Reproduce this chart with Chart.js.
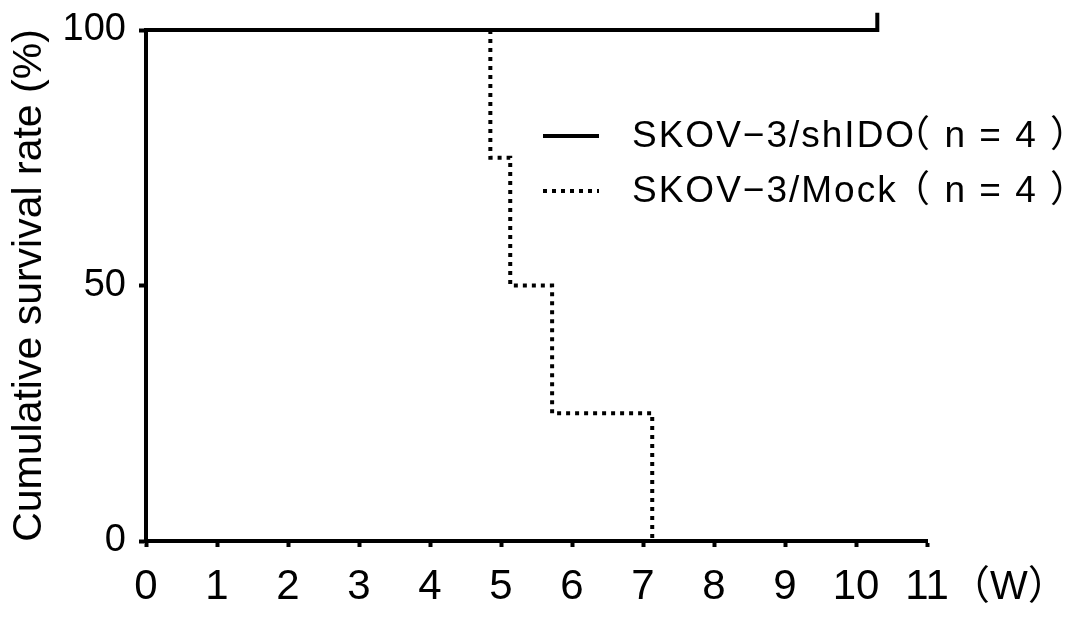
<!DOCTYPE html>
<html>
<head>
<meta charset="utf-8">
<script src="https://cdn.jsdelivr.net/npm/chart.js@4"></script>
<style>
html,body{margin:0;padding:0;background:#fff;}
#wrap{width:1087px;height:620px;position:relative;}
</style>
</head>
<body>
<div id="wrap"><canvas id="c" width="1087" height="620"></canvas></div>
<script>
// Data (weeks, % survival)
const seriesNames = ["SKOV\u22123/shIDO", "SKOV\u22123/Mock"];
const seriesN = ["\uFF08 n = 4 \uFF09", "\uFF08 n = 4 \uFF09"];
const shidoWeeks = [0, 10.3, 10.3];
const shidoSurvival = [100, 100, 103.4]; // last point = censoring tick
const mockWeeks = [4.85, 4.85, 5.13, 5.13, 5.72, 5.72, 7.13, 7.13];
const mockSurvival = [100, 75, 75, 50, 50, 25, 25, 0];
const xTicks = [0,1,2,3,4,5,6,7,8,9,10,11];
const yTicks = [0, 50, 100];
const xUnit = "\uFF08W\uFF09";
const yTitle = "Cumulative survival rate (%)";

const FONT = "'Liberation Sans', 'Noto Sans CJK JP', Arial, sans-serif";

function pts(xs, ys){ return xs.map((x,i)=>({x:x, y:ys[i]})); }

const extras = {
  id: 'extras',
  afterDraw(chart){
    const ctx = chart.ctx;
    const xs = chart.scales.x;
    ctx.save();
    ctx.fillStyle = '#000';
    ctx.textBaseline = 'middle';
    ctx.textAlign = 'left';
    // x unit label, ink starting ~50px right of the last tick
    ctx.font = "40px " + FONT;
    const mu = ctx.measureText(xUnit);
    ctx.fillText(xUnit, xs.getPixelForValue(11) + 50 + mu.actualBoundingBoxLeft, 588);
    // legend
    const lx0 = 543, lx1 = 599, tx = 632, rx = 1062;
    const rows = [136, 191];
    chart.data.datasets.forEach((ds, i) => {
      const y = rows[i];
      ctx.beginPath();
      ctx.lineWidth = ds.borderWidth;
      ctx.strokeStyle = ds.borderColor;
      ctx.setLineDash(ds.borderDash || []);
      ctx.lineCap = 'butt';
      ctx.moveTo(lx0, y); ctx.lineTo(lx1, y);
      ctx.stroke();
      ctx.setLineDash([]);
      ctx.font = "37px " + FONT;
      ctx.fillStyle = '#000';
      ctx.letterSpacing = '2px';
      ctx.fillText(seriesNames[i], tx, y + 1);
      const m = ctx.measureText(seriesN[i]);
      ctx.fillText(seriesN[i], rx - m.actualBoundingBoxRight, y + 1);
      ctx.letterSpacing = '0px';
    });
    ctx.restore();
  }
};

new Chart(document.getElementById('c'), {
  type: 'line',
  data: {
    datasets: [
      { label: seriesNames[0], data: pts(shidoWeeks, shidoSurvival), borderColor: '#000', borderWidth: 4, pointRadius: 0, fill: false, tension: 0, clip: false, borderJoinStyle: 'miter' },
      { label: seriesNames[1], data: pts(mockWeeks, mockSurvival), borderColor: '#000', borderWidth: 4, borderDash: [4,5], pointRadius: 0, fill: false, tension: 0, clip: false, borderJoinStyle: 'miter' }
    ]
  },
  options: {
    responsive: false,
    animation: false,
    devicePixelRatio: 1,
    layout: { padding: { top: 30, right: 160, left: 0, bottom: 0 } },
    plugins: { legend: { display: false }, tooltip: { enabled: false } },
    scales: {
      x: {
        type: 'linear', min: 0, max: 11,
        afterBuildTicks(s){ s.ticks = xTicks.map(v=>({value:v})); },
        afterFit(s){ s.height = 79; },
        border: { display: true, color: '#000', width: 4 },
        grid: { drawOnChartArea: false, drawTicks: true, tickLength: 6, tickWidth: 4, tickColor: '#000' },
        ticks: { color: '#000', font: { family: FONT, size: 42 }, padding: 15, maxRotation: 0, autoSkip: false }
      },
      y: {
        type: 'linear', min: 0, max: 100,
        afterBuildTicks(s){ s.ticks = yTicks.map(v=>({value:v})); },
        afterFit(s){ s.width = 146; s.paddingTop = 0; s.paddingBottom = 0; },
        border: { display: true, color: '#000', width: 4 },
        grid: { drawOnChartArea: false, drawTicks: true, tickLength: 7, tickWidth: 4, tickColor: '#000' },
        ticks: { color: '#000', font: { family: FONT, size: 38, lineHeight: 1.0 }, padding: 13 },
        title: { display: true, text: yTitle, color: '#000', font: { family: FONT, size: 41 }, padding: { top: 5, bottom: 0 } }
      }
    }
  },
  plugins: [extras]
});
</script>
</body>
</html>
